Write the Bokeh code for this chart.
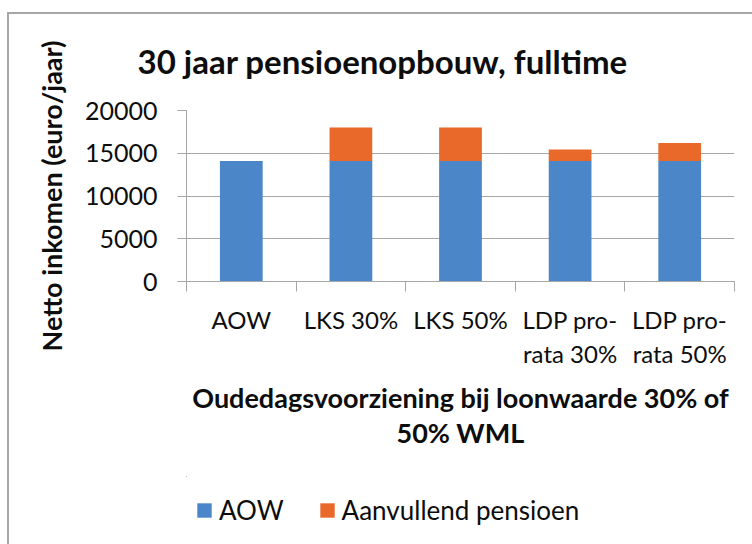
from bokeh.plotting import figure
from bokeh.layouts import column
from bokeh.models import ColumnDataSource, FixedTicker, Legend, Range1d
from bokeh.embed import file_html
from bokeh.resources import INLINE

categories = ["AOW", "LKS 30%", "LKS 50%", "LDP pro-\nrata 30%", "LDP pro-\nrata 50%"]
aow = [14100, 14100, 14100, 14100, 14100]
aanvullend = [0, 3900, 3900, 1350, 2100]
y_ticks = [0, 5000, 10000, 15000, 20000]
series_names = ["AOW", "Aanvullend pensioen"]

FONT = "Lato"
BLUE = "#4a86c8"
ORANGE = "#e8692a"
GRID = "#a6a6a6"
TXT = "#0d0d0d"
LINE = "linear-gradient(#a6a6a6, #a6a6a6)"

positions = [i + 0.5 for i in range(len(categories))]
boundaries = list(range(len(categories) + 1))
src = ColumnDataSource(dict(x=positions, aow=aow,
                            top=[a + b for a, b in zip(aow, aanvullend)]))

# ---------------- main chart ----------------
p = figure(width=752, height=476, output_backend="svg", toolbar_location=None,
           x_range=Range1d(0, len(categories)), y_range=Range1d(0, max(y_ticks)),
           min_border_left=186, min_border_right=18, min_border_top=110,
           min_border_bottom=195)
p.styles = {
    "background-image": f"{LINE}, {LINE}",
    "background-size": "100% 2px, 2px 100%",
    "background-position": "7px 12px, 7px 12px",
    "background-repeat": "no-repeat",
}
p.outline_line_color = None
p.background_fill_color = "white"
p.border_fill_color = None

p.vbar(x="x", width=0.39, bottom=0, top="aow", source=src,
       fill_color=BLUE, line_color=None)
p.vbar(x="x", width=0.39, bottom="aow", top="top", source=src,
       fill_color=ORANGE, line_color=None)

p.title.text = "30 jaar pensioenopbouw,  fulltime"
p.title.align = "left"
p.title.offset = -49
p.title.standoff = 60
p.title.text_font = FONT
p.title.text_font_size = "33px"
p.title.text_font_style = "bold"
p.title.text_color = TXT

ya = p.yaxis[0]
ya.ticker = FixedTicker(ticks=y_ticks)
ya.major_tick_out = 9
ya.major_tick_in = 0
ya.minor_tick_out = 0
ya.minor_tick_in = 0
ya.axis_line_color = GRID
ya.major_tick_line_color = GRID
ya.major_label_text_font = FONT
ya.major_label_text_font_size = "25px"
ya.major_label_text_color = TXT
ya.major_label_standoff = 20
ya.axis_label = "Netto inkomen (euro/jaar)"
ya.axis_label_text_font = FONT
ya.axis_label_text_font_size = "27px"
ya.axis_label_text_font_style = "bold"
ya.axis_label_text_color = TXT
ya.axis_label_standoff = 14
p.ygrid.ticker = FixedTicker(ticks=y_ticks)
p.ygrid.grid_line_color = GRID
p.xgrid.visible = False

xa = p.xaxis[0]
xa.ticker = FixedTicker(ticks=positions, minor_ticks=boundaries)
xa.major_label_overrides = {pos: lab for pos, lab in zip(positions, categories)}
xa.major_tick_out = 0
xa.major_tick_in = 0
xa.minor_tick_out = 10
xa.minor_tick_in = 0
xa.minor_tick_line_color = GRID
xa.axis_line_color = GRID
xa.major_label_text_font = FONT
xa.major_label_text_font_size = "24px"
xa.major_label_text_line_height = 1.2
xa.major_label_text_color = TXT
xa.major_label_standoff = 13
xa.axis_label = "Oudedagsvoorziening bij loonwaarde 30% of\n50% WML"
xa.axis_label_text_font = FONT
xa.axis_label_text_font_size = "27px"
xa.axis_label_text_line_height = 1.05
xa.axis_label_text_font_style = "bold"
xa.axis_label_text_color = TXT
xa.axis_label_standoff = 10

# ---------------- legend strip (frame aligned with the chart's frame) ----------------
lg = figure(width=752, height=68, output_backend="svg", toolbar_location=None,
            x_range=Range1d(100, 105), y_range=Range1d(-2, -1),
            x_axis_location=None, y_axis_location=None, min_border=0)
lg.styles = {
    "background-image": LINE,
    "background-size": "2px 100%",
    "background-position": "7px 0px",
    "background-repeat": "no-repeat",
}
lg.grid.visible = False
lg.outline_line_color = None
lg.background_fill_color = None
lg.border_fill_color = None
# same series, drawn far outside the strip's visible range; only their legend swatches show
k1 = lg.vbar(x="x", width=0.39, bottom=0, top="aow", source=src,
             fill_color=BLUE, line_color=None)
k2 = lg.vbar(x="x", width=0.39, bottom="aow", top="top", source=src,
             fill_color=ORANGE, line_color=None)

legend = Legend(items=[(series_names[0], [k1]), (series_names[1], [k2])],
                orientation="horizontal", location=(9, 18),
                padding=0, margin=0, spacing=34, glyph_width=18, glyph_height=18,
                label_standoff=6, label_text_font=FONT, label_text_font_size="26px",
                label_text_color=TXT, border_line_color=None, background_fill_alpha=0)
lg.add_layout(legend)

layout = column(p, lg, spacing=0)
open("out.html", "w").write(file_html(layout, INLINE))
